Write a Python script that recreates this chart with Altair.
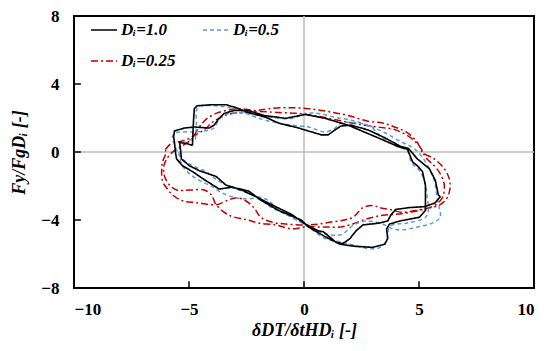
import altair as alt
import pandas as pd

SERIES = ["Dᵢ=1.0", "Dᵢ=0.5", "Dᵢ=0.25"]
COLORS = ["#000000", "#5B9BD5", "#C00000"]
DASHES = [[1, 0], [4, 3], [7, 3, 2, 3]]

X_TICKS = [-10, -5, 0, 5, 10]
Y_TICKS = [-8, -4, 0, 4, 8]
INNER_X_TICKS = [-5, 0, 5]
INNER_Y_TICKS = [-4, 0, 4]

D10_PTS = [(-4.85,0.39),(-4.81,1.70),(-4.77,2.55),(-4.64,2.72),(-4.03,2.78),(-3.39,2.78),(-2.96,2.61),(-2.40,2.32),
 (-1.66,2.04),(-1.10,1.70),(-0.24,1.41),(0.75,1.01),(1.05,1.01),(1.35,1.30),(1.61,1.53),(2.04,1.58),(2.78,1.30),
 (3.51,0.84),(4.20,0.33),(4.54,0.21),(4.93,-0.41),(5.45,-0.98),(5.71,-1.67),(5.84,-2.52),
 (5.92,-2.64),(5.71,-2.98),(5.28,-3.21),(4.59,-3.27),(3.98,-3.38),(3.77,-3.72),(3.64,-4.06),(3.29,-4.18),(2.56,-4.29),
 (2.26,-4.64),(2.00,-5.09),(1.70,-5.38),(1.40,-5.32),(0.84,-4.69),
 (0.62,-4.64),(0.06,-4.24),(-0.54,-3.67),(-1.41,-3.10),(-1.97,-2.71),
 (-2.27,-2.52),(-2.70,-2.24),(-3.13,-2.07),(-3.69,-2.18),(-4.42,-1.55),(-4.85,-1.15),(-5.28,-0.81),(-5.54,-0.41),
 (-5.59,-0.01),(-5.63,0.56),(-5.67,0.90),(-5.63,1.24),
 (-5.20,1.41),(-4.77,1.47),(-4.12,1.41),(-3.91,1.58),(-3.69,1.98),(-3.47,2.27),(-3.04,2.44),(-2.40,2.44),(-1.75,2.15),
 (-0.80,1.98),(0.06,2.21),(0.92,1.98),(1.91,1.58),(3.21,0.84),(4.07,0.33),(4.50,0.16),
 (4.72,-0.58),(4.93,-0.81),(5.15,-1.15),(5.28,-1.95),(5.28,-2.81),(5.28,-3.44),
 (5.02,-3.84),(4.16,-4.06),(3.72,-4.24),(3.59,-4.52),(3.64,-5.09),(3.51,-5.43),(2.99,-5.61),(2.26,-5.55),(1.57,-5.43),(0.92,-4.98),
 (0.19,-4.41),(-0.11,-4.01),(-1.10,-3.44),(-1.84,-2.87),
 (-2.40,-2.30),(-2.96,-2.12),(-3.39,-1.95),(-3.82,-1.44),(-4.55,-1.10),(-4.98,-0.81),(-5.33,-0.41),(-5.37,0.16),(-5.41,0.56),
 (-5.11,0.50),(-4.85,0.39)]

D05_PTS = [(-4.72,0.73),(-4.68,1.58),(-4.68,2.44),(-4.59,2.67),(-4.38,2.72),(-3.82,2.72),(-3.26,2.61),(-2.53,2.32),
 (-1.97,2.15),(-1.41,2.04),(-0.54,1.98),(0.06,2.27),(0.62,2.27),(1.35,2.04),(2.04,1.87),(2.78,1.58),(3.51,1.13),
 (4.20,0.61),(4.63,0.33),(4.93,0.04),(5.28,-0.58),(5.58,-1.38),(5.71,-1.95),(5.79,-2.70),(5.88,-3.27),(5.92,-3.84),
 (5.58,-4.18),(4.93,-4.41),(4.28,-4.58),(3.85,-4.52),(3.42,-4.24),(2.78,-4.06),(2.22,-4.24),(1.61,-4.86),(0.92,-4.81),
 (0.06,-4.24),(-0.54,-3.84),(-1.10,-3.44),(-1.53,-2.87),(-2.09,-2.58),(-2.70,-2.30),(-3.26,-2.01),(-3.69,-1.73),
 (-3.99,-1.44),(-4.25,-1.15),(-4.85,-0.81),(-5.28,-0.41),(-5.50,-0.01),(-5.63,0.44),(-5.72,0.90),(-5.59,1.13),
 (-5.28,1.18),(-4.90,1.18),(-4.68,1.18),(-4.12,1.30),(-3.91,1.41),(-3.78,1.70),(-3.60,2.04),(-3.26,2.27),(-2.53,2.27),
 (-1.97,1.98),(-1.10,1.70),(-0.54,1.58),(0.19,1.47),(0.92,1.18),(1.35,1.41),(1.61,1.70),(2.34,1.70),(2.91,1.47),
 (3.34,0.90),(4.07,0.33),(4.37,0.16),(4.59,-0.13),(4.63,-0.53),(4.80,-0.81),(5.06,-1.15),(5.28,-1.95),(5.36,-2.70),
 (5.41,-3.44),(5.28,-3.84),(4.50,-4.18),(3.85,-4.29),(3.68,-4.52),(3.64,-4.98),(3.51,-5.38),(3.21,-5.66),(2.69,-5.66),
 (2.17,-5.49),(1.70,-5.32),(0.92,-5.09),(0.19,-4.41),(-0.54,-3.84),(-1.41,-3.27),(-1.97,-2.75),(-2.48,-2.75),
 (-2.96,-2.70),(-3.56,-2.41),(-4.03,-2.01),(-4.55,-1.67),(-4.98,-1.27),(-5.28,-0.81),(-5.41,-0.30),(-5.41,0.16),
 (-5.24,0.61),(-4.85,0.73),(-4.72,0.73)]

D025_PTS = [(-6.02,0.16),(-5.72,0.56),(-5.41,0.61),(-5.11,0.73),(-4.85,0.90),(-4.55,1.13),(-4.25,1.41),(-3.99,1.75),
 (-3.60,2.04),(-3.13,2.27),(-2.53,2.32),(-1.97,2.38),(-1.10,2.32),(-0.24,2.27),(0.62,2.10),(1.48,1.87),(2.34,1.64),
 (3.21,1.47),(3.98,1.30),(4.63,0.84),(5.06,0.27),(5.28,-0.30),(5.66,-0.81),(5.92,-1.27),(6.10,-1.95),(6.01,-2.70),
 (5.66,-3.15),(5.15,-3.38),(4.59,-3.55),(3.98,-3.67),(3.42,-3.72),(2.69,-3.95),(2.00,-4.29),(1.57,-4.41),(0.84,-4.41),
 (0.06,-4.41),(-0.54,-4.52),(-1.23,-4.29),(-1.97,-4.18),(-2.40,-4.01),(-3.26,-3.72),(-3.82,-3.10),(-4.03,-2.52),
 (-4.34,-2.24),(-4.98,-2.24),(-5.54,-2.24),(-5.84,-1.95),(-6.06,-1.44),(-6.10,-0.87),(-5.97,-0.41),(-5.72,-0.01),
 (-5.41,0.27),(-4.90,0.73),(-4.64,1.30),
 (-4.42,1.70),(-4.21,1.98),(-3.82,2.27),(-3.39,2.44),(-2.83,2.55),(-2.09,2.44),(-1.53,2.55),(-0.67,2.61),(0.19,2.55),
 (1.05,2.38),(1.91,2.15),(2.78,1.81),(3.42,1.70),(3.94,1.47),(4.50,1.13),(4.93,0.56),(5.15,-0.01),(5.66,-0.41),
 (6.10,-0.98),(6.31,-1.55),(6.35,-2.12),(6.22,-2.70),(5.92,-3.10),(5.36,-3.32),(4.84,-3.44),(4.28,-3.55),(3.72,-3.38),
 (3.29,-3.27),(2.99,-3.15),(2.56,-3.27),(2.13,-3.84),(1.70,-4.01),(1.18,-4.12),(0.62,-4.24),(0.06,-4.29),(-0.80,-4.24),
 (-1.41,-4.12),(-1.88,-3.84),(-2.18,-3.27),(-2.61,-2.81),(-2.96,-2.70),(-3.26,-2.81),(-3.82,-3.10),(-4.68,-2.98),
 (-5.28,-2.87),(-5.72,-2.52),(-5.97,-2.12),(-6.15,-1.73),(-6.19,-1.15),(-6.15,-0.58),(-6.02,-0.13),(-6.02,0.16)]

rows = []
for name, pts in zip(SERIES, [D10_PTS, D05_PTS, D025_PTS]):
    for i, (x, y) in enumerate(pts):
        rows.append({"x": x, "y": y, "s": name, "i": i})
df = pd.DataFrame(rows)

FONT = "Liberation Serif"
W, H = 460, 272
xscale = alt.Scale(domain=[-10, 10], nice=False, zero=False)
yscale = alt.Scale(domain=[-8, 8], nice=False, zero=False)

xaxis = alt.Axis(values=X_TICKS, title="δDT/δtHDᵢ [-]", grid=False, ticks=False, domain=False,
                 labelFont=FONT, labelFontSize=17, labelFontWeight="bold", labelColor="black",
                 labelPadding=13, titleFont=FONT, titleFontSize=18, titleFontWeight="bold",
                 titleFontStyle="italic", titleColor="black", titleX=W / 2, titleY=42,
                 titleBaseline="middle")
yaxis = alt.Axis(values=Y_TICKS, title="Fy/FgDᵢ [-]", grid=False, ticks=False, domain=False,
                 labelFont=FONT, labelFontSize=17, labelFontWeight="bold", labelColor="black",
                 labelPadding=15, titleFont=FONT, titleFontSize=18, titleFontWeight="bold",
                 titleFontStyle="italic", titleColor="black", titleX=-55, titleY=H / 2,
                 titleBaseline="middle", titleAngle=270)

color = alt.Color("s:N", scale=alt.Scale(domain=SERIES, range=COLORS), title=None)
dash = alt.StrokeDash("s:N", scale=alt.Scale(domain=SERIES, range=DASHES), title=None)

base = alt.Chart(df)

zero_v = alt.Chart(df).mark_rule(color="#bdbdbd", strokeWidth=1.5).encode(
    x=alt.X("zx:Q", scale=xscale, axis=xaxis)).transform_calculate(zx="0").transform_filter("datum.i == 0 && datum.s == 'Dᵢ=1.0'")
zero_h = alt.Chart(df).mark_rule(color="#bdbdbd", strokeWidth=1.5).encode(
    y=alt.Y("zy:Q", scale=yscale, axis=yaxis)).transform_calculate(zy="0").transform_filter("datum.i == 0 && datum.s == 'Dᵢ=1.0'")

def line(name, interp, width):
    return base.transform_filter(alt.datum.s == name).mark_line(
        strokeWidth=width, interpolate=interp, clip=True).encode(
        x=alt.X("x:Q", scale=xscale, axis=xaxis),
        y=alt.Y("y:Q", scale=yscale, axis=yaxis),
        color=color, strokeDash=dash, order="i:Q")

xt = pd.DataFrame({"t": INNER_X_TICKS})
yt = pd.DataFrame({"t": INNER_Y_TICKS})
xticks = alt.Chart(xt).mark_rule(color="black", strokeWidth=1.5).encode(
    x=alt.X("t:Q", scale=xscale, axis=xaxis),
    y=alt.datum(-8, scale=yscale), y2=alt.datum(-7.6))
yticks = alt.Chart(yt).mark_rule(color="black", strokeWidth=1.5).encode(
    y=alt.Y("t:Q", scale=yscale, axis=yaxis),
    x=alt.datum(-10, scale=xscale), x2=alt.datum(-9.7))

chart = alt.layer(
    zero_v, zero_h,
    line(SERIES[2], "catmull-rom", 1.5),
    line(SERIES[1], "catmull-rom", 1.5),
    line(SERIES[0], "linear", 1.6),
    xticks, yticks,
).properties(
    width=W, height=H,
    autosize=alt.AutoSizeParams(type="none"),
    padding={"left": 66, "top": 8, "right": 8, "bottom": 55},
).configure_view(
    stroke="black", strokeWidth=2
).configure_legend(
    orient="none", legendX=16, legendY=0, columns=2, direction="horizontal",
    symbolType="stroke", symbolSize=676,
    symbolStrokeWidth=1.5, labelFont=FONT, labelFontSize=17, labelFontWeight="bold",
    labelFontStyle="italic", labelColor="black", labelOffset=3, columnPadding=24, rowPadding=9,
    padding=0
)

chart.save("out.html", embed_options={"renderer": "svg", "actions": False})
